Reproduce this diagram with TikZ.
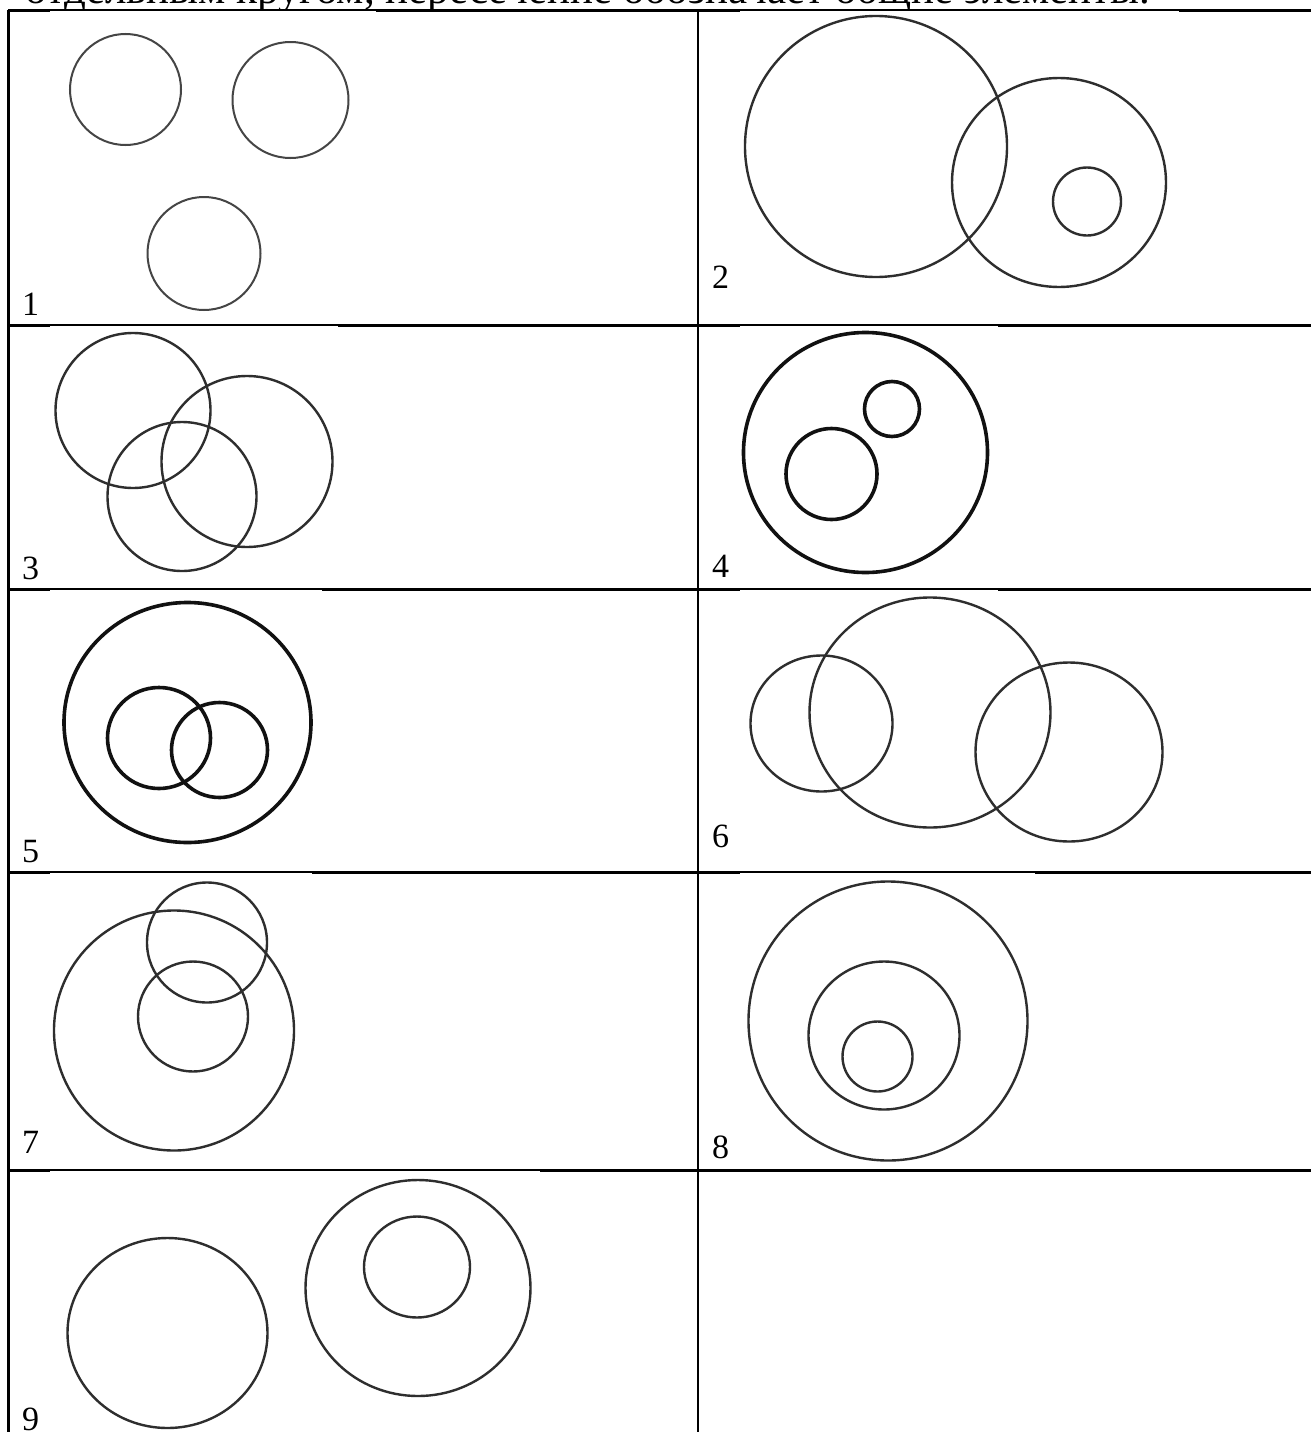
\documentclass[tikz,border=0pt]{standalone}
\usepackage{graphicx}
\usepackage{fontspec}
\setmainfont{Liberation Serif}
\usepackage{xcolor}
\definecolor{ink}{HTML}{111111}
\definecolor{soft}{HTML}{2E2E2E}
\definecolor{pale}{HTML}{454545}

\begin{document}
\begin{tikzpicture}[x=1pt, y=-1pt,
    every node/.style={font=\fontsize{34}{40}\selectfont, inner sep=0pt, anchor=base west},
    lightring/.style={line width=2pt, color=pale},
    ring/.style={line width=2.4pt, color=soft},
    boldring/.style={line width=3.6pt, color=ink},
    rule/.style={line width=1.6pt, color=black},
    fatrule/.style={line width=3pt, color=black}]
  \useasboundingbox[fill=white] (0,0) rectangle (1311,1432);
  % heading line, cut by the page edge
  \begin{scope}
    \clip (0,0) rectangle (1311,10);
    \node (head) at (25,3) {\resizebox{1125pt}{!}{отдельным кругом, пересечение обозначает общие элементы.}};
  \end{scope}
  % table
  \foreach \y in {10,325,589,872,1170}
    \draw[rule] (8,\y) -- (1311,\y);
  \foreach \y/\a/\b in {10/376/1179, 325/338/998, 589/322/998, 872/312/1035, 1170/540/740}
    \draw[fatrule] (8,\y) -- (50,\y) (\a,\y) -- (740,\y) (\b,\y) -- (1311,\y);
  \draw[fatrule] (8,10) -- (8,1432);
  \draw[rule] (698,10) -- (698,1432);
  % 1
  \draw[lightring] (125.5,89.5) circle[radius=55.5pt];
  \draw[lightring] (290.5,100) circle[radius=58pt];
  \draw[lightring] (204,253.5) circle[radius=56.5pt];
  \node (lab1) at (22,315) {1};
  % 2
  \draw[ring] (876,146.5) ellipse[x radius=131pt, y radius=130.5pt];
  \draw[ring] (1059,182.5) ellipse[x radius=107pt, y radius=104.5pt];
  \draw[ring] (1087,201.5) circle[radius=34pt];
  \node (lab2) at (712,288) {2};
  % 3
  \draw[ring] (133,410.5) circle[radius=77.5pt];
  \draw[ring] (247,461.5) circle[radius=85.5pt];
  \draw[ring] (182,496.5) circle[radius=74.5pt];
  \node (lab3) at (22,579) {3};
  % 4
  \draw[boldring] (865.5,452.5) ellipse[x radius=122pt, y radius=120pt];
  \draw[boldring] (892,409) circle[radius=27.5pt];
  \draw[boldring] (831.5,474) circle[radius=45.5pt];
  \node (lab4) at (712,577) {4};
  % 5
  \draw[boldring] (187.5,722.5) ellipse[x radius=123.5pt, y radius=120pt];
  \draw[boldring] (159,738) ellipse[x radius=51.5pt, y radius=50.5pt];
  \draw[boldring] (219.5,750) ellipse[x radius=48pt, y radius=47.5pt];
  \node (lab5) at (22,862) {5};
  % 6
  \draw[ring] (821.5,723.5) ellipse[x radius=71pt, y radius=68pt];
  \draw[ring] (930,712.5) ellipse[x radius=120.5pt, y radius=115pt];
  \draw[ring] (1069,752) ellipse[x radius=93.5pt, y radius=89.5pt];
  \node (lab6) at (712,847) {6};
  % 7
  \draw[ring] (174,1030.5) circle[radius=120pt];
  \draw[ring] (207,942.5) circle[radius=60pt];
  \draw[ring] (193,1016.5) circle[radius=55pt];
  \node (lab7) at (22,1153) {7};
  % 8
  \draw[ring] (888,1021) circle[radius=139.5pt];
  \draw[ring] (884,1035.5) ellipse[x radius=75.5pt, y radius=74pt];
  \draw[ring] (877.5,1056.5) circle[radius=35pt];
  \node (lab8) at (712,1158) {8};
  % 9
  \draw[ring] (167.5,1333) ellipse[x radius=100pt, y radius=95pt];
  \draw[ring] (418,1288) ellipse[x radius=112.5pt, y radius=108pt];
  \draw[ring] (417,1267) ellipse[x radius=53pt, y radius=50.5pt];
  \node (lab9) at (22,1430) {9};
\end{tikzpicture}
\end{document}
